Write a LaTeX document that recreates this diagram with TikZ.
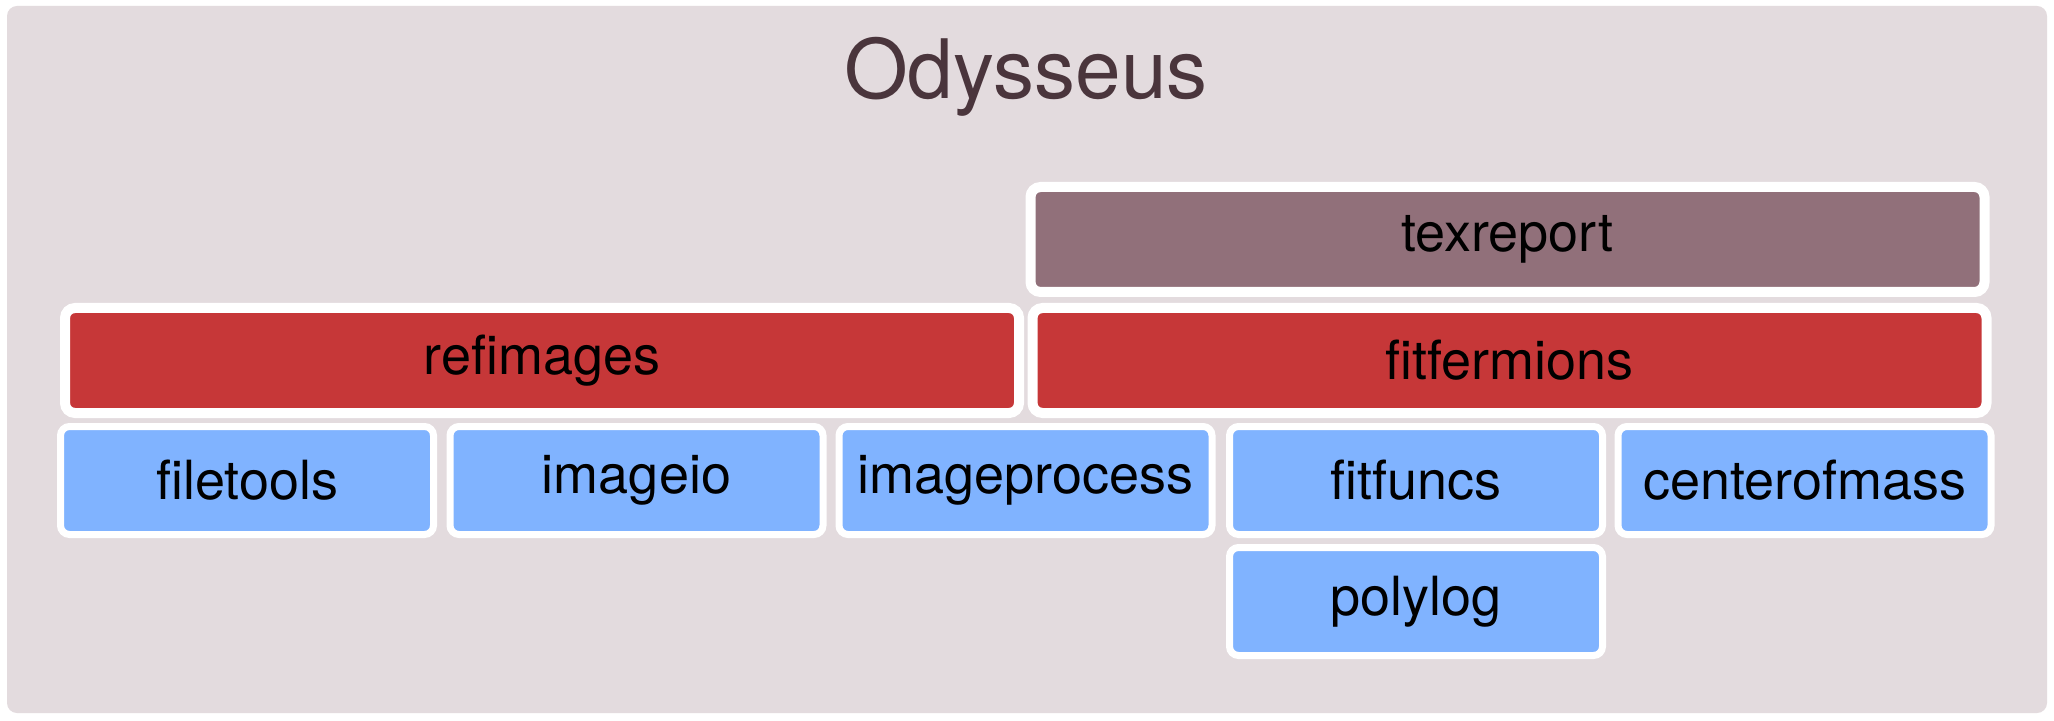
\documentclass[tikz,border=0pt]{standalone}
\usepackage{fontspec}
\setmainfont{TeX Gyre Heros}
\definecolor{bgcol}{RGB}{227,219,222}
\definecolor{titlecol}{RGB}{74,53,60}
\definecolor{toolcol}{RGB}{145,112,122}
\definecolor{corecol}{RGB}{198,55,56}
\definecolor{libcol}{RGB}{128,179,255}
\begin{document}
\begin{tikzpicture}[x=0.5pt,y=-0.5pt, font=\fontsize{27}{32}\selectfont,
	box/.style={draw=white, inner sep=0pt, text=black},
	libbox/.style={box, fill=libcol, line width=3.5pt, rounded corners=4.5pt, minimum width=186.5pt, minimum height=54pt},
	corebox/.style={box, fill=corecol, line width=5pt, rounded corners=5pt, minimum width=477pt, minimum height=52.5pt},
	toolbox/.style={corebox, fill=toolcol}]
	\def\ytool{239.5} \def\ycore{360.5} % Hàng
	\def\ylib{480.5} \def\ysub{601.5}
	\useasboundingbox (0,0) rectangle (2054,721);
	\fill[white] (0,0) rectangle (2054,721);
	\fill[bgcol, rounded corners=5pt] (7,6) rectangle (2047,713);
	\node[anchor=base, text=titlecol, font=\fontsize{41}{48}\selectfont] (title) at (1026,99) {Odysseus};
	\node[toolbox] (texreport) at (1507.5,\ytool) {texreport};
	\node[corebox] (refimages) at (542,\ycore) {refimages};
	\node[corebox] (fitfermions) at (1509.5,\ycore) {fitfermions};
	\node[libbox] (filetools) at (247,\ylib) {filetools};
	\node[libbox] (imageio) at (636.5,\ylib) {imageio};
	\node[libbox] (imageprocess) at (1025.5,\ylib) {imageprocess};
	\node[libbox] (fitfuncs) at (1416,\ylib) {fitfuncs};
	\node[libbox] (centerofmass) at (1804.5,\ylib) {centerofmass};
	\node[libbox] (polylog) at (1416,\ysub) {polylog};
\end{tikzpicture}
\end{document}
